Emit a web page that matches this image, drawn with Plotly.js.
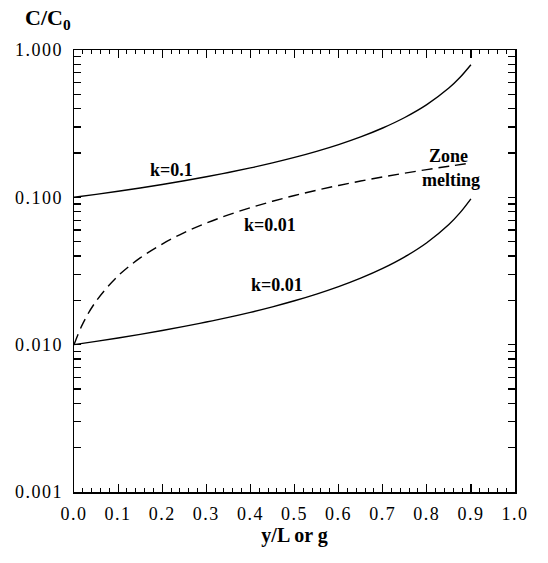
<!DOCTYPE html>
<html><head><meta charset="utf-8">
<script src="https://cdn.plot.ly/plotly-3.0.1.min.js"></script>
<style>
html,body{margin:0;padding:0;background:#fff;font-family:'Liberation Serif',serif}
.xtick text, .ytick text {letter-spacing: 1.5px;}
</style>
</head><body>
<div id="chart" style="width:548px;height:563px"></div>
<script>
// fraction solidified g (or y/L)
const g = [0, 0.05, 0.1, 0.15, 0.2, 0.25, 0.3, 0.35, 0.4, 0.45, 0.5, 0.55, 0.6, 0.65, 0.7, 0.75, 0.8, 0.85, 0.875, 0.9];
// normal freezing, k = 0.1
const cK01 = [0.1, 0.1047, 0.1100, 0.1158, 0.1222, 0.1296, 0.1379, 0.1474, 0.1584, 0.1713, 0.1866, 0.2052, 0.2281, 0.2572, 0.2955, 0.3482, 0.4257, 0.5514, 0.650, 0.794];
// normal freezing, k = 0.01
const cK001 = [0.01, 0.01052, 0.01110, 0.01175, 0.01247, 0.01330, 0.01424, 0.01532, 0.01658, 0.01807, 0.01986, 0.02205, 0.02477, 0.02827, 0.03293, 0.03945, 0.0492, 0.0654, 0.0784, 0.0977];
// zone melting, k = 0.01
const gZone = [0, 0.02, 0.05, 0.1, 0.15, 0.2, 0.25, 0.3, 0.35, 0.4, 0.45, 0.5, 0.55, 0.6, 0.65, 0.7, 0.75, 0.8, 0.85, 0.9];
const cZone = [0.01, 0.0139, 0.0197, 0.0293, 0.0388, 0.0482, 0.0576, 0.0668, 0.0760, 0.0850, 0.0940, 0.1029, 0.1117, 0.1204, 0.1290, 0.1375, 0.1460, 0.1543, 0.1626, 0.1709];

const xTickVals = [0, 0.1, 0.2, 0.3, 0.4, 0.5, 0.6, 0.7, 0.8, 0.9, 1.0];
const xTickText = ['0.0','0.1','0.2','0.3','0.4','0.5','0.6','0.7','0.8','0.9','1.0'];
const yDecades = [0.001, 0.01, 0.1, 1];
const yDecadeText = ['0.001','0.010','0.100','1.000'];

// all log tick positions (1..9 per decade), labels only at decades
const yTickVals = [], yTickText = [];
for (let d = 0; d < yDecades.length; d++) {
  const base = yDecades[d];
  const top = d === yDecades.length - 1 ? 1 : 9;
  for (let m = 1; m <= top; m++) {
    yTickVals.push(base * m);
    yTickText.push(m === 1 ? yDecadeText[d] : '');
  }
}

const serif = 'Liberation Serif';

const traces = [
  {x: g, y: cK01, mode: 'lines', line: {color: '#000', width: 1.4, shape: 'spline'}, hoverinfo: 'skip'},
  {x: g, y: cK001, mode: 'lines', line: {color: '#000', width: 1.4, shape: 'spline'}, hoverinfo: 'skip'},
  {x: gZone, y: cZone, mode: 'lines', line: {color: '#000', width: 1.4, shape: 'spline', dash: '11px,6px'}, hoverinfo: 'skip'}
];

const annFont = {family: serif, size: 18, color: '#000'};

const layout = {
  width: 548, height: 563,
  margin: {l: 74, r: 33, t: 50, b: 71},
  paper_bgcolor: '#fff', plot_bgcolor: '#fff',
  showlegend: false,
  font: {family: serif, size: 18, color: '#000'},
  xaxis: {
    range: [0, 1], tickvals: xTickVals, ticktext: xTickText,
    ticks: 'inside', ticklen: 8, tickwidth: 1.2, tickcolor: '#000',
    minor: {dtick: 0.02, ticks: 'inside', ticklen: 4, tickwidth: 1, tickcolor: '#000'},
    showline: true, linecolor: '#000', linewidth: 1.5, mirror: 'ticks',
    showgrid: false, zeroline: false,
    tickfont: {family: serif, size: 18}, ticklabelstandoff: 5,
    title: {text: '<b>y/L or g</b>', font: {family: serif, size: 20}, standoff: 5}
  },
  yaxis: {
    type: 'log', range: [-3, 0], tickvals: yTickVals, ticktext: yTickText,
    ticks: 'inside', ticklen: 7, tickwidth: 1.2, tickcolor: '#000',
    showline: true, linecolor: '#000', linewidth: 1.5, mirror: 'ticks',
    showgrid: false, zeroline: false,
    tickfont: {family: serif, size: 18}, ticklabelstandoff: 6
  },
  annotations: [
    {xref: 'paper', yref: 'paper', x: -0.115, y: 1.07, xanchor: 'left', yanchor: 'middle', showarrow: false,
     text: '<b>C/C<sub>0</sub></b>', font: {family: serif, size: 22, color: '#000'}},
    {xref: 'x', yref: 'paper', x: 0.22, y: 0.756, showarrow: false, text: '<b>k=0.1</b>', font: annFont},
    {xref: 'x', yref: 'paper', x: 0.445, y: 0.604, showarrow: false, text: '<b>k=0.01</b>', font: annFont},
    {xref: 'x', yref: 'paper', x: 0.46, y: 0.468, showarrow: false, text: '<b>k=0.01</b>', font: annFont},
    {xref: 'x', yref: 'paper', x: 0.85, y: 0.788, showarrow: false, text: '<b>Zone</b>', font: annFont},
    {xref: 'x', yref: 'paper', x: 0.854, y: 0.734, showarrow: false, text: '<b>melting</b>', font: annFont}
  ]
};

Plotly.newPlot('chart', traces, layout, {staticPlot: true, displayModeBar: false});
</script>
</body></html>
